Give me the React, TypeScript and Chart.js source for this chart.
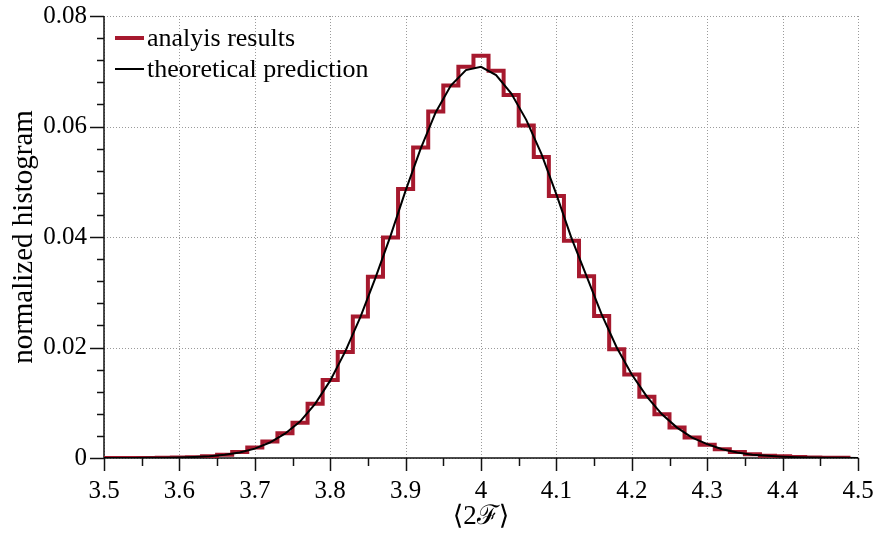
import React, { useEffect, useRef } from 'react';
import { Chart, registerables } from 'chart.js';

Chart.register(...registerables);

// Histogram bin centres (bin width 0.02) and normalized counts
const BIN_CENTERS = [
  3.50, 3.52, 3.54, 3.56, 3.58, 3.60, 3.62, 3.64, 3.66, 3.68,
  3.70, 3.72, 3.74, 3.76, 3.78, 3.80, 3.82, 3.84, 3.86, 3.88,
  3.90, 3.92, 3.94, 3.96, 3.98, 4.00, 4.02, 4.04, 4.06, 4.08,
  4.10, 4.12, 4.14, 4.16, 4.18, 4.20, 4.22, 4.24, 4.26, 4.28,
  4.30, 4.32, 4.34, 4.36, 4.38, 4.40, 4.42, 4.44, 4.46, 4.48,
];
const HIST_VALUES = [
  0.0, 0.00001, 0.00001, 0.00002, 0.00004, 0.00007, 0.00015, 0.0003, 0.0006, 0.0011,
  0.0019, 0.0030, 0.0045, 0.0064, 0.0098, 0.0141, 0.0192, 0.0256, 0.0328, 0.0399,
  0.0487, 0.0562, 0.0627, 0.0674, 0.0708, 0.0728, 0.0701, 0.0657, 0.0602, 0.0545,
  0.0474, 0.0393, 0.0329, 0.0257, 0.0197, 0.0151, 0.0111, 0.0079, 0.0055, 0.0037,
  0.0024, 0.0016, 0.0011, 0.0007, 0.0004, 0.0003, 0.0002, 0.0001, 0.00005, 0.00003,
];
const BIN_WIDTH = 0.02;

// Theoretical prediction curve
const THEORY_X = [
  3.50, 3.52, 3.54, 3.56, 3.58, 3.60, 3.62, 3.64, 3.66, 3.68,
  3.70, 3.72, 3.74, 3.76, 3.78, 3.80, 3.82, 3.84, 3.86, 3.88,
  3.90, 3.92, 3.94, 3.96, 3.98, 4.00, 4.02, 4.04, 4.06, 4.08,
  4.10, 4.12, 4.14, 4.16, 4.18, 4.20, 4.22, 4.24, 4.26, 4.28,
  4.30, 4.32, 4.34, 4.36, 4.38, 4.40, 4.42, 4.44, 4.46, 4.48, 4.50,
];
const THEORY_Y = [
  0.00001, 0.00001, 0.00002, 0.00003, 0.00005, 0.0001, 0.00018, 0.00032, 0.00058, 0.0010,
  0.0017, 0.0028, 0.0044, 0.0066, 0.0098, 0.0140, 0.0193, 0.0255, 0.0326, 0.0402,
  0.0484, 0.0560, 0.0626, 0.0674, 0.0702, 0.0708, 0.0693, 0.0660, 0.0612, 0.0551,
  0.0477, 0.0398, 0.0329, 0.0260, 0.0200, 0.0151, 0.0111, 0.0079, 0.0055, 0.0037,
  0.0025, 0.0016, 0.0010, 0.0006, 0.0004, 0.00024, 0.00014, 0.00008, 0.00005, 0.00003, 0.00002,
];

const X_TICKS = [3.5, 3.6, 3.7, 3.8, 3.9, 4.0, 4.1, 4.2, 4.3, 4.4, 4.5];
const Y_TICKS = [0, 0.02, 0.04, 0.06, 0.08];
const X_MINOR_STEP = 0.05;
const Y_MINOR_STEP = 0.004;

const SERIES_LABELS = ['analyis results', 'theoretical prediction'];
const X_TITLE = '\u27E82\u2131\u27E9';
const Y_TITLE = 'normalized histogram';

const RED = '#A6192E';
const FONT_FAMILY = "'Liberation Serif', 'DejaVu Serif', serif";

const decoPlugin = {
  id: 'deco',
  beforeDatasetsDraw(chart: any) {
    const { ctx, chartArea: a, scales } = chart;
    const x = scales.x;
    const y = scales.y;
    ctx.save();
    // dotted grid
    ctx.strokeStyle = '#9a9a9a';
    ctx.lineWidth = 1;
    ctx.setLineDash([1, 2]);
    for (const t of X_TICKS) {
      const px = Math.round(x.getPixelForValue(t)) + 0.5;
      ctx.beginPath();
      ctx.moveTo(px, a.top);
      ctx.lineTo(px, a.bottom);
      ctx.stroke();
    }
    for (const t of Y_TICKS) {
      const py = Math.round(y.getPixelForValue(t)) + 0.5;
      ctx.beginPath();
      ctx.moveTo(a.left, py);
      ctx.lineTo(a.right, py);
      ctx.stroke();
    }
    ctx.setLineDash([]);
    // axis lines
    ctx.strokeStyle = '#111';
    ctx.lineWidth = 1.5;
    ctx.beginPath();
    ctx.moveTo(a.left, a.top);
    ctx.lineTo(a.left, a.bottom);
    ctx.lineTo(a.right, a.bottom);
    ctx.stroke();
    // ticks
    ctx.lineWidth = 1.5;
    const nX = Math.round((4.5 - 3.5) / X_MINOR_STEP);
    for (let i = 0; i <= nX; i++) {
      const v = 3.5 + i * X_MINOR_STEP;
      const major = i % 2 === 0;
      const px = Math.round(x.getPixelForValue(v)) + 0.5;
      ctx.beginPath();
      ctx.moveTo(px, a.bottom);
      ctx.lineTo(px, a.bottom + (major ? 13 : 8));
      ctx.stroke();
    }
    const nY = Math.round(0.08 / Y_MINOR_STEP);
    for (let i = 0; i <= nY; i++) {
      const v = i * Y_MINOR_STEP;
      const major = i % 5 === 0;
      const py = Math.round(y.getPixelForValue(v)) + 0.5;
      ctx.beginPath();
      ctx.moveTo(a.left, py);
      ctx.lineTo(a.left - (major ? 14 : 7), py);
      ctx.stroke();
    }
    ctx.restore();
  },
  afterDraw(chart: any) {
    const { ctx } = chart;
    ctx.save();
    const rows = [
      { label: SERIES_LABELS[0], color: RED, width: 4, y: 38 },
      { label: SERIES_LABELS[1], color: '#000', width: 2, y: 69 },
    ];
    ctx.font = `26px ${FONT_FAMILY}`;
    ctx.textBaseline = 'middle';
    ctx.textAlign = 'left';
    for (const r of rows) {
      ctx.strokeStyle = r.color;
      ctx.lineWidth = r.width;
      ctx.beginPath();
      ctx.moveTo(115, r.y);
      ctx.lineTo(144, r.y);
      ctx.stroke();
      ctx.fillStyle = '#000';
      ctx.fillText(r.label, 147, r.y + 1);
    }
    ctx.restore();
  },
};

export default function App() {
  const ref = useRef<HTMLCanvasElement>(null);
  useEffect(() => {
    const canvas = ref.current;
    if (!canvas) return;
    const histPoints = BIN_CENTERS.map((c, i) => ({ x: c - BIN_WIDTH / 2, y: HIST_VALUES[i] }));
    histPoints.push({
      x: BIN_CENTERS[BIN_CENTERS.length - 1] + BIN_WIDTH / 2,
      y: HIST_VALUES[HIST_VALUES.length - 1],
    });
    const theoryPoints = THEORY_X.map((xv, i) => ({ x: xv, y: THEORY_Y[i] }));
    const tickFont = { family: FONT_FAMILY, size: 25 };
    const chart = new Chart(canvas, {
      type: 'line',
      data: {
        datasets: [
          {
            label: SERIES_LABELS[0],
            data: histPoints,
            borderColor: RED,
            backgroundColor: RED,
            borderWidth: 4,
            stepped: 'before',
            pointRadius: 0,
            fill: false,
            borderJoinStyle: 'miter',
            borderCapStyle: 'butt',
            order: 1,
          },
          {
            label: SERIES_LABELS[1],
            data: theoryPoints,
            borderColor: '#000',
            backgroundColor: '#000',
            borderWidth: 2,
            pointRadius: 0,
            tension: 0,
            fill: false,
            order: 0,
          },
        ],
      },
      options: {
        responsive: false,
        animation: false,
        devicePixelRatio: 1,
        layout: { padding: { left: 0, right: 19, top: 16, bottom: 0 } },
        plugins: { legend: { display: false }, tooltip: { enabled: false } },
        scales: {
          x: {
            type: 'linear',
            min: 3.5,
            max: 4.5,
            afterBuildTicks: (s: any) => {
              s.ticks = X_TICKS.map((v) => ({ value: v }));
            },
            afterFit: (s: any) => {
              s.height = 76;
              s.paddingLeft = 0;
              s.paddingRight = 0;
            },
            grid: { display: false, drawTicks: false },
            border: { display: false },
            ticks: {
              padding: 18,
              font: tickFont,
              color: '#000',
              maxRotation: 0,
              autoSkip: false,
              callback: (v: any) => String(v),
            },
            title: {
              display: true,
              text: X_TITLE,
              font: { family: FONT_FAMILY, size: 27, lineHeight: 1 },
              color: '#000',
              padding: { top: 0, bottom: 4 },
            },
          },
          y: {
            type: 'linear',
            min: 0,
            max: 0.08,
            afterBuildTicks: (s: any) => {
              s.ticks = Y_TICKS.map((v) => ({ value: v }));
            },
            afterFit: (s: any) => {
              s.width = 104;
              s.paddingTop = 0;
              s.paddingBottom = 0;
            },
            grid: { display: false, drawTicks: false },
            border: { display: false },
            ticks: {
              padding: 17,
              font: tickFont,
              color: '#000',
              autoSkip: false,
              callback: (v: any) => String(v),
            },
            title: {
              display: true,
              text: Y_TITLE,
              font: { family: FONT_FAMILY, size: 29, lineHeight: 1 },
              color: '#000',
              padding: { top: 10, bottom: 0 },
            },
          },
        },
      },
      plugins: [decoPlugin],
    } as any);
    return () => chart.destroy();
  }, []);
  return (
    <div style={{ position: 'fixed', left: 0, top: 0, width: 877, height: 534, background: '#fff' }}>
      <canvas ref={ref} width={877} height={534} style={{ display: 'block', width: 877, height: 534 }} />
    </div>
  );
}
